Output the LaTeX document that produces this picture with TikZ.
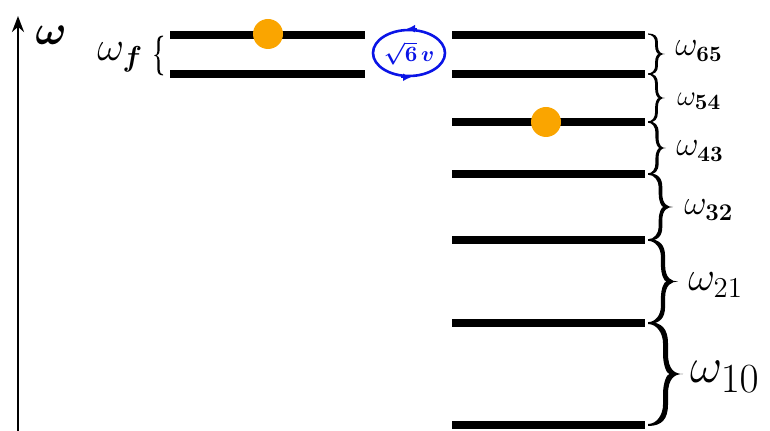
\documentclass[tikz,border=0pt]{standalone}
\usepackage{amsmath,bm}
\usetikzlibrary{arrows.meta,shapes.geometric}
\definecolor{dotorange}{RGB}{250,165,0}
\definecolor{loopblue}{RGB}{10,20,230}
\tikzset{
  level/.style={line width=4pt},
  ball/.style={circle,fill=dotorange,minimum size=15pt,inner sep=0pt},
  lab/.style={anchor=west,inner sep=0pt},
}
% #1 x of tips, #2 y of top tip, #3 height, #4 amplitude, #5 thickness, #6 extra options
\newcommand{\mybrace}[6]{%
  \pgfmathsetmacro\bs{#4/2}%
  \pgfmathsetmacro\bh{#3/2}%
  \pgfmathsetmacro\br{min(#4*0.6,#3/5)}%
  \pgfmathsetmacro\bt{#5/2}%
  \pgfmathsetmacro\be{#5/5}%
  \fill[shift={(#1,#2)},#6]
   (0,-\be) .. controls (\bs*0.8,-\be) and (\bs+\bt,\br*0.3) .. (\bs+\bt,\br)
   -- (\bs+\bt,\bh-\br)
   .. controls (\bs+\bt,\bh-\br*0.2) and (#4-\br*0.4,\bh) .. (#4,\bh)
   .. controls (#4-\br*0.4,\bh) and (\bs+\bt,\bh+\br*0.2) .. (\bs+\bt,\bh+\br)
   -- (\bs+\bt,#3-\br)
   .. controls (\bs+\bt,#3-\br*0.3) and (\bs*0.8,#3+\be) .. (0,#3+\be)
   -- (0,#3-\be)
   .. controls (\bs*0.5,#3-\be) and (\bs-\bt,#3-\br*0.5) .. (\bs-\bt,#3-\br)
   -- (\bs-\bt,\bh+\br)
   .. controls (\bs-\bt,\bh+\br*0.4) and (\bs+\bt*0.6,\bh) .. (\bs+\bt*1.6,\bh)
   .. controls (\bs+\bt*0.6,\bh) and (\bs-\bt,\bh-\br*0.4) .. (\bs-\bt,\bh-\br)
   -- (\bs-\bt,\br)
   .. controls (\bs-\bt,\br*0.5) and (\bs*0.5,\be) .. (0,\be)
   -- cycle;
}
\begin{document}
\begin{tikzpicture}[x=0.5pt,y=-0.5pt]
\useasboundingbox (0,0) rectangle (770,431);
% axis
\coordinate (ax0) at (18,431);
\coordinate (ax1) at (18,16);
\draw[line width=1.4pt,-{Stealth[length=8pt,width=6pt]}] (ax0) -- (ax1);
\node[lab] (wlab) at (35,35) {\fontsize{22}{24}\selectfont$\bm{\omega}$};
% left levels
\foreach \n/\y in {f1/35,f0/74}{
  \coordinate (L\n a) at (170,\y);
  \coordinate (L\n b) at (365,\y);
  \draw[level] (L\n a) -- (L\n b);
}
% right levels
\foreach \n/\y in {6/35,5/74,4/122,3/174,2/240,1/323,0/425}{
  \coordinate (R\n a) at (452,\y);
  \coordinate (R\n b) at (645,\y);
  \draw[level] (R\n a) -- (R\n b);
}
% dots
\node[ball] (d1) at (268,34) {};
\node[ball] (d2) at (546,122) {};
% left brace (opening right)
\begin{scope}[xscale=-1]
  \mybrace{-163}{36}{39}{9}{2.2}{}
\end{scope}
\node[lab] (wf) at (97,57) {\fontsize{22}{24}\selectfont$\omega_{\bm f}$};
% right braces
\mybrace{648}{34}{40}{17}{2.8}{}
\mybrace{648}{74}{48}{17}{2.8}{}
\mybrace{648}{122}{52}{18}{3.2}{}
\mybrace{648}{174}{66}{25}{3.6}{}
\mybrace{648}{240}{83}{30}{4.2}{}
\mybrace{648}{323}{102}{35}{5}{}
\node[lab] (w65) at (675,51) {\fontsize{16}{18}\selectfont$\omega_{\mathbf{65}}$};
\node[lab] (w54) at (677,101) {\fontsize{15}{17}\selectfont$\omega_{\mathbf{54}}$};
\node[lab] (w43) at (676,151) {\fontsize{16}{18}\selectfont$\omega_{\mathbf{43}}$};
\node[lab] (w32) at (684,210) {\fontsize{16.5}{18}\selectfont$\omega_{\mathbf{32}}$};
\node[lab] (w21) at (688,285) {\fontsize{22}{24}\selectfont$\omega_{21}$};
\node[lab] (w10) at (690,377) {\fontsize{32}{34}\selectfont$\omega_{10}$};
% loop
\node[ellipse,draw=loopblue,line width=1.3pt,minimum width=36pt,minimum height=23pt,inner sep=0pt,text=loopblue] (loop) at (409,53)
  {\fontsize{11}{12}\selectfont$\bm{\sqrt{6}\,v}$};
\draw[loopblue,line width=1pt,-{Latex[length=4pt,width=4pt]}] ([xshift=4pt]loop.north) -- ([xshift=-1pt]loop.north);
\draw[loopblue,line width=1pt,-{Latex[length=4pt,width=4pt]}] ([xshift=-4pt]loop.south) -- ([xshift=1pt]loop.south);
\end{tikzpicture}
\end{document}
